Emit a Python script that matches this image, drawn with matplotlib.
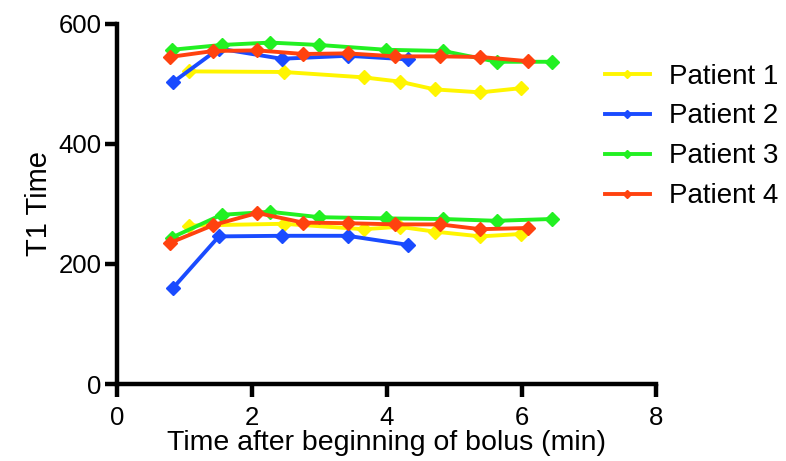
import matplotlib
matplotlib.use('Agg')
import matplotlib.pyplot as plt

plt.rcParams['font.family'] = ['Liberation Sans', 'DejaVu Sans']

labels = ['Patient 1', 'Patient 2', 'Patient 3', 'Patient 4']
colors = ['#FFF500', '#1A4BFF', '#22F022', '#FF420F']

p1_t = [1.06, 2.47, 3.66, 4.19, 4.71, 5.39, 5.99]
p1_hi = [521, 520, 511, 504, 491, 486, 493]
p1_lo = [264, 267, 258, 262, 254, 246, 250]

p2_t = [0.83, 1.51, 2.44, 3.42, 4.31]
p2_hi = [503, 559, 542, 547, 541]
p2_lo = [160, 246, 247, 247, 232]

p3_t = [0.81, 1.55, 2.27, 3.0, 3.99, 4.84, 5.63, 6.45]
p3_hi = [557, 565, 569, 565, 557, 555, 537, 537]
p3_lo = [244, 282, 287, 278, 276, 275, 272, 275]

p4_t = [0.78, 1.43, 2.08, 2.76, 3.42, 4.13, 4.79, 5.39, 6.09]
p4_hi = [545, 555, 556, 550, 551, 546, 546, 545, 538]
p4_lo = [235, 265, 285, 269, 268, 266, 266, 258, 260]

series = [(p1_t, p1_hi, p1_lo), (p2_t, p2_hi, p2_lo),
          (p3_t, p3_hi, p3_lo), (p4_t, p4_hi, p4_lo)]

fig = plt.figure(figsize=(7.86, 4.61), dpi=100)
ax = fig.add_axes([0.149, 0.167, 0.686, 0.781])

for (t, hi, lo), c, lab in zip(series, colors, labels):
    ax.plot(t, hi, color=c, lw=2.8, marker='D', ms=7, label=lab)
    ax.plot(t, lo, color=c, lw=2.8, marker='D', ms=7)

ax.set_xlim(0, 8)
ax.set_ylim(0, 600)
ax.set_xticks([0, 2, 4, 6, 8])
ax.set_yticks([0, 200, 400, 600])

for s in ['top', 'right']:
    ax.spines[s].set_visible(False)
for s in ['left', 'bottom']:
    ax.spines[s].set_linewidth(3.2)
ax.tick_params(width=3.2, length=9, labelsize=18.5, pad=2)
ax.tick_params(axis='x', pad=7)

ax.set_xlabel('Time after beginning of bolus (min)', fontsize=20.5, labelpad=0)
ax.set_ylabel('T1 Time', fontsize=21, labelpad=4)

leg = ax.legend(loc='upper left', bbox_to_anchor=(0.905, 0.89), frameon=False,
                fontsize=20, handlelength=1.6, handletextpad=0.7,
                labelspacing=0.5, markerscale=0.6, borderpad=0, borderaxespad=0)

fig.savefig('out.png', dpi=100)
